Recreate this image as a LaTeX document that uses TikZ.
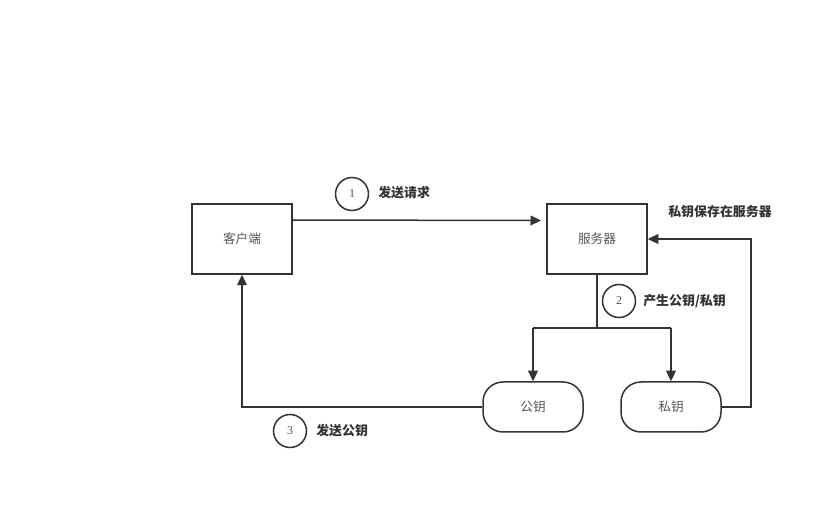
\documentclass[tikz,border=0pt]{standalone}
\usepackage{fontspec}
\setmainfont{Liberation Serif}
\newfontfamily\cjk{Noto Sans CJK SC}
\usetikzlibrary{arrows.meta}
\definecolor{ln}{HTML}{333333}
\definecolor{tx}{HTML}{555555}
\begin{document}
\begin{tikzpicture}[x=0.75pt,y=-0.75pt,
  box/.style={draw=ln,line width=1.5pt*0.75,minimum width=100*0.75pt,minimum height=70*0.75pt,inner sep=0pt,font=\cjk\fontsize{9.5pt}{11pt}\selectfont,text=tx},
  keybox/.style={draw=ln,line width=1.5pt*0.75,rounded corners=20*0.75pt,minimum width=100*0.75pt,minimum height=50*0.75pt,inner sep=0pt,font=\cjk\fontsize{9.5pt}{11pt}\selectfont,text=tx},
  numc/.style={circle,draw=ln,line width=1.5pt*0.75,minimum size=33*0.75pt,inner sep=0pt,font=\fontsize{9pt}{10pt}\selectfont,text=tx},
  lbl/.style={font=\cjk\bfseries\fontsize{9.7pt}{11pt}\selectfont,text=ln,inner sep=0pt},
  conn/.style={draw=ln,line width=1.5pt*0.75},
  arr/.style={conn,-{Triangle[length=7.5pt*0.75*1.4,width=7.5pt*0.75*1.3]}}
]
\useasboundingbox (0,0) rectangle (840,513);
\node[box] (client) at (242,239) {客户端};
\node[box] (server) at (597,239) {服务器};
\node[keybox] (pub) at (533,407) {公钥};
\node[keybox] (priv) at (671,407) {私钥};

\node[numc] (c1) at (352,194) {1};
\node[lbl,anchor=west] (l1) at (378,193) {发送请求};
\node[lbl] (l0) at (720,212) {私钥保存在服务器};
\node[numc] (c2) at (619,301) {2};
\node[lbl,anchor=west] (l2) at (643,301) {产生公钥/私钥};
\node[numc] (c3) at (290,431) {3};
\node[lbl,anchor=west] (l3) at (316,431) {发送公钥};

\coordinate (s1) at (292,220);
\coordinate (e1) at (541,220.5);
\draw[arr] (s1) -- (e1);

\coordinate (split) at (597,328);
\coordinate (sl) at (533,328);
\coordinate (sr) at (671,328);
\draw[conn] (server.south) -- (split);
\draw[conn] (sl) -- (sr);
\draw[arr] (sl) -- (pub.north);
\draw[arr] (sr) -- (priv.north);

\coordinate (r1) at (751,407);
\coordinate (r2) at (751,239);
\draw[arr] (priv.east) -- (r1) -- (r2) -- (server.east);

\coordinate (b1) at (242,407);
\draw[arr] (pub.west) -- (b1) -- (client.south);
\end{tikzpicture}
\end{document}
